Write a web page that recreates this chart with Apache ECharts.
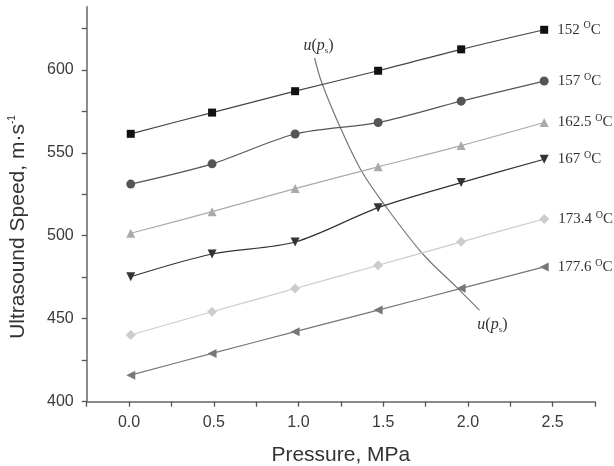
<!DOCTYPE html>
<html>
<head>
<meta charset="utf-8">
<script src="https://cdn.jsdelivr.net/npm/echarts@6/dist/echarts.min.js"></script>
<style>
  html, body { margin: 0; padding: 0; background: #fff; }
  #chart { width: 614px; height: 466px; }
</style>
</head>
<body>
<div id="chart"></div>
<script>
// Pressure values (MPa) at which each isotherm was measured
const pressures = [0.01, 0.49, 0.98, 1.47, 1.96, 2.45];

// Isotherm temperatures (°C) and ultrasound speed (m/s) along each
const temperatures = ['152', '157', '162.5', '167', '173.4', '177.6'];
const speed152   = [561.4, 574.2, 587.1, 599.4, 612.3, 624.1];
const speed157   = [531.1, 543.3, 561.3, 568.2, 581.1, 593.2];
const speed162_5 = [501.5, 514.5, 528.4, 541.5, 554.3, 568.2];
const speed167   = [475.3, 489.0, 496.2, 516.9, 532.0, 546.1];
const speed173_4 = [440.2, 454.2, 468.2, 482.2, 496.3, 510.1];
const speed177_6 = [416.0, 429.1, 442.2, 455.2, 468.3, 481.2];

// Saturation line u(p_s)
const saturationP = [1.095, 1.138, 1.248, 1.370, 1.508, 1.734, 1.940, 2.068];
const saturationU = [607.1, 592.0, 564.9, 539.3, 518.6, 489.0, 468.3, 455.2];

// Axis ranges and labelled tick steps
const xMin = -0.25, xMax = 2.75, xStep = 0.5;
const yMin = 400, yMax = 638, yStep = 50;

const styles = [
  { data: speed152,   symbol: 'rect',     rot: 0,   size: 8,  fill: '#111', line: '#444' },
  { data: speed157,   symbol: 'circle',   rot: 0,   size: 9,  fill: '#555', line: '#555' },
  { data: speed162_5, symbol: 'triangle', rot: 0,   size: 9,  fill: '#aaa', line: '#aaa' },
  { data: speed167,   symbol: 'triangle', rot: 180, size: 9,  fill: '#333', line: '#333' },
  { data: speed173_4, symbol: 'diamond',  rot: 0,   size: 10, fill: '#ccc', line: '#ccc' },
  { data: speed177_6, symbol: 'triangle', rot: 90,  size: 9,  fill: '#777', line: '#777' }
];

const serifRich = {
  t: { fontFamily: 'Liberation Serif', fontSize: 15, color: '#333' },
  sup: { fontFamily: 'Liberation Serif', fontSize: 10, color: '#333', verticalAlign: 'bottom', padding: [0, 0, 8, 0] }
};

const isoSeries = styles.map((s, i) => ({
  type: 'line',
  name: temperatures[i],
  smooth: 0.3,
  symbol: s.symbol,
  symbolRotate: s.rot,
  symbolSize: s.size,
  itemStyle: { color: s.fill },
  lineStyle: { color: s.line, width: 1.2 },
  data: s.data.map((v, j) => {
    const item = { value: [pressures[j], v] };
    if (j === s.data.length - 1) {
      item.label = {
        show: true,
        position: 'right',
        distance: 9,
        formatter: '{t|' + temperatures[i] + ' }{sup|O}{t|C}',
        rich: serifRich
      };
    }
    return item;
  })
}));

const upsRich = {
  i: { fontFamily: 'Liberation Serif', fontStyle: 'italic', fontSize: 16, color: '#333' },
  r: { fontFamily: 'Liberation Serif', fontSize: 16, color: '#333' },
  sub: { fontFamily: 'Liberation Serif', fontSize: 9, color: '#333', verticalAlign: 'top', padding: [9, 0, 0, 0] }
};
const upsText = '{i|u}{r|(}{i|p}{sub|s}{r|)}';

const saturationSeries = {
  type: 'line',
  name: 'u(ps)',
  smooth: 0.35,
  symbol: 'none',
  lineStyle: { color: '#777', width: 1.2 },
  z: 1,
  data: saturationP.map((p, j) => {
    const item = { value: [p, saturationU[j]] };
    if (j === 0) {
      item.symbol = 'circle';
      item.symbolSize = 0.1;
      item.label = { show: true, position: 'top', distance: 3, offset: [4, 0], formatter: upsText, rich: upsRich };
    } else if (j === saturationP.length - 1) {
      item.symbol = 'circle';
      item.symbolSize = 0.1;
      item.label = { show: true, position: 'bottom', distance: 6, offset: [13, 0], formatter: upsText, rich: upsRich };
    }
    return item;
  })
};

const chart = echarts.init(document.getElementById('chart'), null, { renderer: 'canvas' });
chart.setOption({
  animation: false,
  backgroundColor: '#fff',
  grid: { left: 86.7, right: 19, top: 6.7, bottom: 64.3, containLabel: false, outerBoundsMode: 'none' },
  graphic: [{
    type: 'text',
    x: 18.5,
    y: 227,
    rotation: Math.PI / 2,
    style: {
      text: '{n|Ultrasound Speed, m·s}{s|-1}',
      align: 'center',
      verticalAlign: 'middle',
      rich: {
        n: { fontFamily: 'Liberation Sans', fontSize: 21, fill: '#333', color: '#333' },
        s: { fontFamily: 'Liberation Sans', fontSize: 10, fill: '#333', color: '#333', verticalAlign: 'bottom', padding: [0, 0, 12, 0] }
      }
    }
  }],
  xAxis: {
    type: 'value',
    min: xMin,
    max: xMax,
    interval: 0.25,
    name: 'Pressure, MPa',
    nameLocation: 'middle',
    nameGap: 43,
    nameTextStyle: { fontFamily: 'Liberation Sans', fontSize: 21, color: '#333' },
    axisLine: { show: true, onZero: false, lineStyle: { color: '#666', width: 1.5 } },
    axisTick: { show: true, inside: false, length: 5, lineStyle: { color: '#555', width: 1.3 } },
    axisLabel: {
      fontFamily: 'Liberation Sans', fontSize: 16, color: '#3a3a3a', margin: 13,
      formatter: v => {
        const r = Math.round(v * 100) / 100;
        if (r < 0 || Math.abs(r / xStep - Math.round(r / xStep)) > 1e-6) return '';
        return r.toFixed(1);
      }
    },
    splitLine: { show: false }
  },
  yAxis: {
    type: 'value',
    min: yMin,
    max: yMax,
    interval: 25,
    axisLine: { show: true, onZero: false, lineStyle: { color: '#666', width: 1.5 } },
    axisTick: { show: true, inside: false, length: 5, lineStyle: { color: '#555', width: 1.3 } },
    axisLabel: {
      fontFamily: 'Liberation Sans', fontSize: 16, color: '#3a3a3a', margin: 13,
      showMaxLabel: false,
      formatter: v => (Math.round(v) % yStep === 0 ? String(Math.round(v)) : '')
    },
    splitLine: { show: false }
  },
  series: [saturationSeries].concat(isoSeries)
});
</script>
</body>
</html>
